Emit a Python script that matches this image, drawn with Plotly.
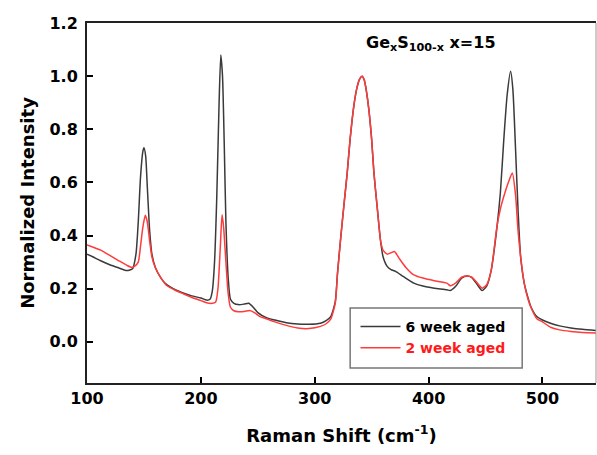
import plotly.graph_objects as go

# Raman spectra of Ge15S85 glass, normalized to the 342 cm-1 band
shift_6wk = [100, 105, 112, 120, 128, 135, 140, 143, 145, 147, 149, 150, 151.5, 153, 155, 157,
             160, 165, 170, 178, 185, 192, 200, 205, 208, 210, 212, 214, 216, 217.5, 219, 220.5,
             222, 224, 226, 229, 233, 238, 242, 246, 250, 258, 265, 275, 285, 295, 305, 310,
             314, 318, 320, 323, 326, 328.5, 331, 334.4, 337, 339.5, 341.6, 343.5, 345.5, 347.5,
             350, 352, 355, 357.7, 360, 363.6, 367, 371, 378, 387, 395, 405, 416, 419, 424, 429,
             434, 438, 442, 447, 451, 455, 460, 463, 466, 469, 472, 474, 476.4, 478.5, 480.8,
             484, 487, 490, 495, 500, 507, 515, 525, 535, 547]
int_6wk = [0.33, 0.32, 0.305, 0.29, 0.278, 0.268, 0.275, 0.33, 0.45, 0.62, 0.715, 0.73, 0.70,
           0.58, 0.42, 0.33, 0.28, 0.24, 0.215, 0.195, 0.183, 0.173, 0.165, 0.157, 0.16, 0.19,
           0.30, 0.55, 0.90, 1.08, 1.00, 0.75, 0.45, 0.24, 0.16, 0.145, 0.14, 0.142, 0.145,
           0.13, 0.11, 0.09, 0.082, 0.072, 0.067, 0.066, 0.07, 0.08, 0.095, 0.15, 0.26, 0.40,
           0.53, 0.635, 0.76, 0.89, 0.955, 0.99, 1.0, 0.985, 0.94, 0.875, 0.76, 0.635, 0.50,
           0.384, 0.32, 0.284, 0.272, 0.265, 0.245, 0.221, 0.21, 0.202, 0.196, 0.193, 0.21,
           0.24, 0.248, 0.242, 0.22, 0.193, 0.21, 0.27, 0.43, 0.56, 0.76, 0.93, 1.018, 0.95,
           0.72, 0.50, 0.321, 0.22, 0.17, 0.13, 0.095, 0.082, 0.07, 0.06, 0.052, 0.047, 0.043]

shift_2wk = [100, 105, 112, 120, 128, 135, 139.5, 142, 145, 147, 149, 151.2, 153, 155, 157,
             160, 165, 170, 178, 185, 192, 200, 205, 210, 213, 215, 217, 218.6, 220, 222, 224,
             226, 229, 233, 238, 243, 247, 252, 258, 265, 275, 285, 295, 305, 310, 314, 318,
             320, 323, 326, 328.5, 331, 334.4, 337, 339.5, 341.6, 343.5, 345.5, 347.5, 350, 352,
             355, 357.7, 360, 363.6, 367, 370, 374, 380, 387, 395, 405, 416, 419, 424, 429, 434,
             438, 442, 447, 451, 455, 460, 463, 466, 470, 473.5, 476.4, 478.5, 480.8, 484, 487,
             490, 495, 500, 507, 515, 525, 535, 547]
int_2wk = [0.365, 0.357, 0.345, 0.325, 0.305, 0.288, 0.28, 0.285, 0.30, 0.36, 0.43, 0.476,
           0.45, 0.38, 0.32, 0.28, 0.24, 0.212, 0.193, 0.18, 0.167, 0.155, 0.147, 0.145, 0.15,
           0.20, 0.35, 0.478, 0.43, 0.30, 0.18, 0.13, 0.117, 0.113, 0.114, 0.118, 0.11, 0.095,
           0.086, 0.075, 0.062, 0.052, 0.05, 0.058, 0.068, 0.085, 0.145, 0.255, 0.40, 0.53,
           0.635, 0.76, 0.89, 0.955, 0.99, 1.0, 0.985, 0.94, 0.875, 0.76, 0.635, 0.50, 0.384,
           0.345, 0.33, 0.335, 0.34, 0.315, 0.28, 0.252, 0.24, 0.23, 0.221, 0.211, 0.222,
           0.243, 0.248, 0.243, 0.225, 0.202, 0.215, 0.27, 0.434, 0.50, 0.547, 0.60, 0.635,
           0.55, 0.42, 0.321, 0.22, 0.165, 0.128, 0.087, 0.075, 0.055, 0.045, 0.039, 0.035,
           0.033]

x_ticks = [100, 200, 300, 400, 500]
y_ticks = [0.0, 0.2, 0.4, 0.6, 0.8, 1.0, 1.2]

FONT = "DejaVu Sans, Verdana, sans-serif"

fig = go.Figure()
fig.add_trace(go.Scatter(x=shift_6wk, y=int_6wk, mode="lines",
                         name="<b>6 week aged</b>",
                         line=dict(color="#3a3a3a", width=1.5, shape="spline", smoothing=0.6)))
fig.add_trace(go.Scatter(x=shift_2wk, y=int_2wk, mode="lines",
                         name="<b><span style='color:#ff1a1a'>2 week aged</span></b>",
                         line=dict(color="#ff3b3b", width=1.5, shape="spline", smoothing=0.6)))

fig.update_layout(
    width=597, height=455,
    margin=dict(l=87, r=1, t=23, b=72),
    plot_bgcolor="white", paper_bgcolor="white",
    font=dict(family=FONT, color="black"),
    showlegend=True,
    legend=dict(x=0.5275, y=0.2, xanchor="left", yanchor="top",
                bgcolor="rgba(0,0,0,0)", borderwidth=0,
                font=dict(size=14, color="black", family=FONT),
                itemwidth=40, tracegroupgap=0),
    annotations=[dict(text="<b>Ge<sub>x</sub>S<sub>100-x</sub> x=15</b>",
                      x=401.7, y=0.977, xref="x", yref="paper",
                      showarrow=False, font=dict(size=16, family=FONT))],
    shapes=[
        # thin right-hand frame edge
        dict(type="line", xref="paper", yref="paper", x0=1, x1=1, y0=0, y1=1,
             line=dict(color="#999999", width=1)),
        # legend frame
        dict(type="rect", xref="paper", yref="paper", x0=0.517, x1=0.855,
             y0=0.042, y1=0.208, fillcolor="white", layer="below",
             line=dict(color="#777777", width=1.5)),
    ],
)

fig.update_xaxes(range=[100, 547], tickvals=x_ticks, ticktext=[f"<b>{v}</b>" for v in x_ticks],
                 ticks="inside", ticklen=6, tickwidth=2, tickcolor="black",
                 showline=True, linecolor="#222222", linewidth=2, mirror=True,
                 showgrid=False, zeroline=False,
                 tickfont=dict(size=16, family=FONT),
                 title=dict(text="<b>Raman Shift (cm<sup>-1</sup>)</b>",
                            font=dict(size=18, family=FONT), standoff=22))
fig.update_yaxes(range=[-0.155, 1.2], tickvals=y_ticks,
                 ticktext=[f"<b>{v:.1f}</b>" for v in y_ticks],
                 ticks="inside", ticklen=6, tickwidth=2, tickcolor="black",
                 showline=True, linecolor="#222222", linewidth=2, mirror=False,
                 showgrid=False, zeroline=False, ticklabelstandoff=4,
                 tickfont=dict(size=16, family=FONT),
                 title=dict(text="<b>Normalized Intensity</b>",
                            font=dict(size=18, family=FONT), standoff=10))

fig.write_html("out.html")
